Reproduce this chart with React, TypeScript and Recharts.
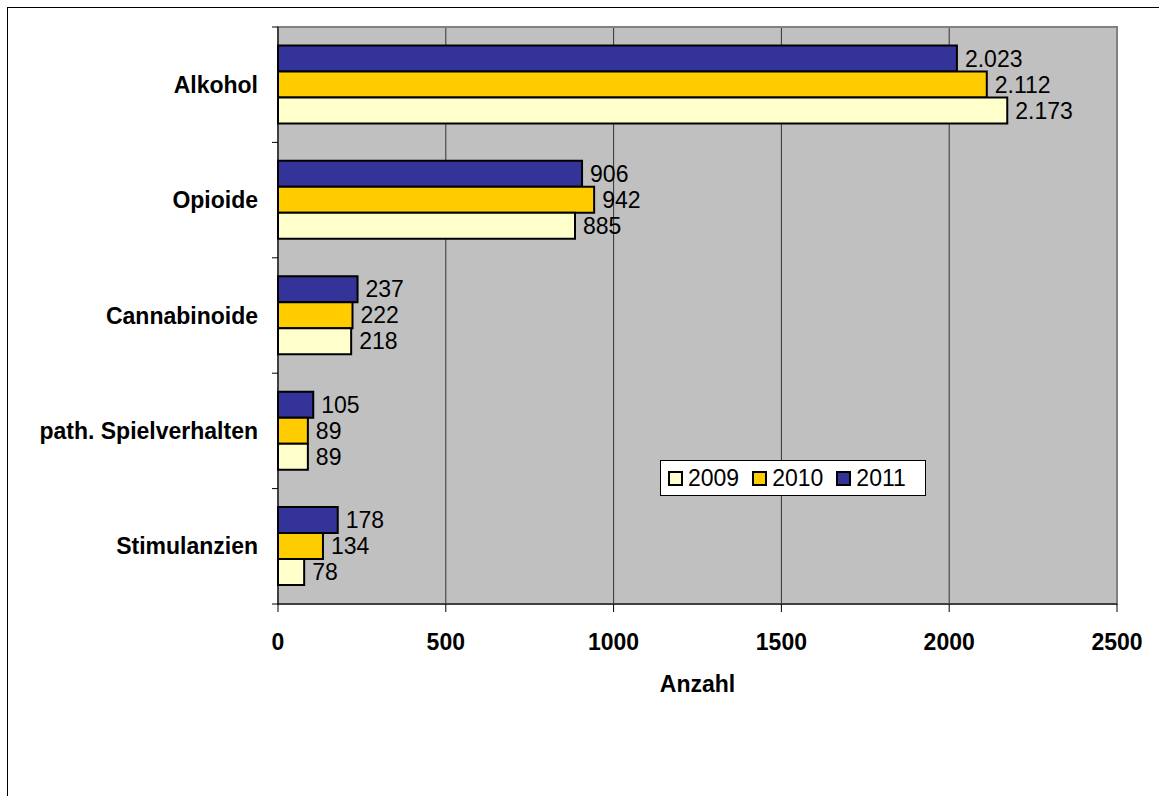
import {
  BarChart,
  Bar,
  XAxis,
  YAxis,
  CartesianGrid,
  Legend,
  LabelList,
  ReferenceArea,
} from 'recharts';

const categories = ['Alkohol', 'Opioide', 'Cannabinoide', 'path. Spielverhalten', 'Stimulanzien'];
const values2009 = [2173, 885, 218, 89, 78];
const values2010 = [2112, 942, 222, 89, 134];
const values2011 = [2023, 906, 237, 105, 178];
const xTicks = [0, 500, 1000, 1500, 2000, 2500];

const series = [
  { key: 'y2009', label: '2009', color: '#FFFFCC' },
  { key: 'y2010', label: '2010', color: '#FFCC00' },
  { key: 'y2011', label: '2011', color: '#333399' },
];

const data = categories.map((name, i) => ({
  name,
  y2009: values2009[i],
  y2010: values2010[i],
  y2011: values2011[i],
}));

const FONT = '"Liberation Sans", Arial, sans-serif';
const TICK_SIZE = 6;
const TICK_MARGIN = 14;

// german thousands separator, e.g. 2.023
const fmt = (v: any) => {
  const n = Number(v);
  return n.toString().replace(/\B(?=(\d{3})+(?!\d))/g, '.');
};

// category label plus tick marks on the band edges (like excel)
function CategoryTick(props: any) {
  const { x, y, payload, index } = props;
  const axisX = x + TICK_SIZE + TICK_MARGIN;
  const half = payload.offset || 0;
  const last = index === categories.length - 1;
  return (
    <g>
      <line x1={axisX - TICK_SIZE} x2={axisX} y1={y - half} y2={y - half} stroke="#000" />
      {last && (
        <line x1={axisX - TICK_SIZE} x2={axisX} y1={y + half} y2={y + half} stroke="#000" />
      )}
      <text
        x={x}
        y={y}
        dy="0.355em"
        textAnchor="end"
        fill="#000"
        fontSize={23}
        fontWeight="bold"
        fontFamily={FONT}
      >
        {payload.value}
      </text>
    </g>
  );
}

function LegendBox() {
  return (
    <div
      style={{
        display: 'flex',
        alignItems: 'center',
        height: 36,
        background: '#fff',
        border: '1px solid #000',
        paddingLeft: 7,
        fontFamily: FONT,
        fontSize: 23,
        color: '#000',
        boxSizing: 'border-box',
      }}
    >
      {series.map((s) => (
        <div key={s.key} style={{ display: 'flex', alignItems: 'center', marginRight: 13 }}>
          <span
            style={{
              width: 11,
              height: 11,
              background: s.color,
              border: '2px solid #000',
              display: 'inline-block',
              marginRight: 5,
            }}
          />
          <span>{s.label}</span>
        </div>
      ))}
    </div>
  );
}

export default function App() {
  return (
    <div
      style={{
        position: 'fixed',
        left: 0,
        top: 0,
        width: 1159,
        height: 796,
        overflow: 'hidden',
        background: '#fff',
      }}
    >
      {/* outer chart frame, only top and left edge visible */}
      <div style={{ position: 'absolute', left: 7, top: 7, width: 1152, height: 1, background: '#000' }} />
      <div style={{ position: 'absolute', left: 7, top: 7, width: 1, height: 789, background: '#000' }} />
      <div style={{ position: 'absolute', left: 0, top: 0 }}>
        <BarChart
          width={1159}
          height={796}
          data={data}
          layout="vertical"
          margin={{ top: 27, right: 42, left: 0, bottom: 132 }}
          barCategoryGap="16%"
          barGap={0}
        >
          <CartesianGrid
            horizontal={false}
            stroke="#333"
            fill="#C0C0C0"
            fillOpacity={1}
          />
          <ReferenceArea
            x1={0}
            x2={2500}
            fill="none"
            stroke="#808080"
            strokeWidth={2}
          />
          <XAxis
            type="number"
            domain={[0, 2500]}
            ticks={xTicks}
            height={60}
            tickSize={8}
            tickMargin={22}
            stroke="#000"
            tick={{ fill: '#000', fontSize: 23, fontWeight: 'bold', fontFamily: FONT }}
            label={{
              value: 'Anzahl',
              position: 'bottom',
              offset: 12,
              fill: '#000',
              fontSize: 23,
              fontWeight: 'bold',
              fontFamily: FONT,
            }}
          />
          <YAxis
            type="category"
            dataKey="name"
            width={278}
            tickLine={false}
            tickSize={TICK_SIZE}
            tickMargin={TICK_MARGIN}
            stroke="#000"
            interval={0}
            tick={<CategoryTick />}
          />
          <Legend
            layout="horizontal"
            verticalAlign="middle"
            align="center"
            wrapperStyle={{ left: 660, top: 460, width: 266 }}
            content={() => <LegendBox />}
          />
          {[...series].reverse().map((s) => (
            <Bar
              key={s.key}
              dataKey={s.key}
              fill={s.color}
              stroke="#000"
              strokeWidth={2}
              isAnimationActive={false}
            >
              <LabelList
                dataKey={s.key}
                position="right"
                offset={8}
                formatter={fmt}
                style={{ fill: '#000', fontSize: 23, fontFamily: FONT }}
              />
            </Bar>
          ))}
        </BarChart>
      </div>
    </div>
  );
}
